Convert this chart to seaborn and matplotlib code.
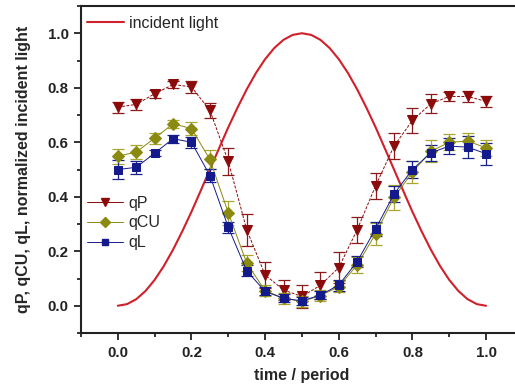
import numpy as np
import pandas as pd
import matplotlib
matplotlib.use("Agg")
import matplotlib.pyplot as plt
from matplotlib.ticker import MultipleLocator
from matplotlib.lines import Line2D
import seaborn as sns

# time points (fraction of period)
t = [0.00, 0.05, 0.10, 0.15, 0.20, 0.25, 0.30, 0.35, 0.40, 0.45, 0.50,
     0.55, 0.60, 0.65, 0.70, 0.75, 0.80, 0.85, 0.90, 0.95, 1.00]

qP = [0.729, 0.739, 0.778, 0.812, 0.803, 0.717, 0.530, 0.279, 0.113, 0.058, 0.034,
      0.075, 0.140, 0.279, 0.440, 0.586, 0.680, 0.741, 0.768, 0.768, 0.750]
qP_err = [0.020, 0.020, 0.015, 0.012, 0.022, 0.028, 0.050, 0.058, 0.047, 0.037, 0.043,
          0.050, 0.056, 0.048, 0.048, 0.047, 0.047, 0.035, 0.015, 0.020, 0.020]

qCU = [0.549, 0.564, 0.615, 0.668, 0.650, 0.537, 0.341, 0.157, 0.055, 0.028, 0.016,
       0.037, 0.070, 0.150, 0.264, 0.398, 0.490, 0.567, 0.600, 0.604, 0.580]
qCU_err = [0.027, 0.025, 0.020, 0.015, 0.025, 0.035, 0.045, 0.030, 0.020, 0.020, 0.020,
           0.020, 0.020, 0.030, 0.040, 0.045, 0.040, 0.040, 0.030, 0.030, 0.030]

qL = [0.500, 0.508, 0.560, 0.613, 0.600, 0.478, 0.288, 0.128, 0.053, 0.027, 0.018,
      0.039, 0.076, 0.162, 0.282, 0.410, 0.500, 0.561, 0.586, 0.582, 0.558]
qL_err = [0.034, 0.025, 0.010, 0.015, 0.020, 0.025, 0.020, 0.020, 0.015, 0.015, 0.015,
          0.015, 0.020, 0.020, 0.025, 0.030, 0.030, 0.030, 0.030, 0.040, 0.040]

# normalized incident light over one period
light_t = [0.000, 0.025, 0.050, 0.075, 0.100, 0.125, 0.150, 0.175, 0.200, 0.225,
           0.250, 0.275, 0.300, 0.325, 0.350, 0.375, 0.400, 0.425, 0.450, 0.475,
           0.500, 0.525, 0.550, 0.575, 0.600, 0.625, 0.650, 0.675, 0.700, 0.725,
           0.750, 0.775, 0.800, 0.825, 0.850, 0.875, 0.900, 0.925, 0.950, 0.975, 1.000]
light = [0.000, 0.006, 0.024, 0.054, 0.095, 0.146, 0.206, 0.273, 0.345, 0.422,
         0.500, 0.578, 0.655, 0.727, 0.794, 0.854, 0.905, 0.946, 0.976, 0.994,
         1.000, 0.994, 0.976, 0.946, 0.905, 0.854, 0.794, 0.727, 0.655, 0.578,
         0.500, 0.422, 0.345, 0.273, 0.206, 0.146, 0.095, 0.054, 0.024, 0.006, 0.000]

sns.set_style("ticks")
plt.rcParams["font.family"] = ["Liberation Sans", "DejaVu Sans"]
plt.rcParams["font.size"] = 11.5

fig = plt.figure(figsize=(5.15, 3.87), dpi=100)
ax = fig.add_axes([0.1573, 0.1395, 0.858, 0.845])

df_light = pd.DataFrame({"t": light_t, "light": light})
sns.lineplot(data=df_light, x="t", y="light", ax=ax, color="#d0202a",
             linewidth=1.5, legend=False)

series = [
    # name, values, errors, colour, error colour, marker, size, legend size, style
    ("qP", qP, qP_err, "#8b0a0a", "#8b1a1a", "v", 7.5, 6.0, (0, (3, 1.5))),
    ("qCU", qCU, qCU_err, "#8a8a10", "#a8a830", "D", 5.8, 4.8, "-"),
    ("qL", qL, qL_err, "#141a8c", "#1a208c", "s", 5.5, 4.5, "-"),
]
handles = []
for name, vals, err, col, ecol, mk, ms, lms, ls in series:
    df = pd.DataFrame({"t": t, "v": vals})
    ax.errorbar(t, vals, yerr=err, fmt="none", ecolor=ecol, elinewidth=0.9,
                capsize=4, capthick=0.9, zorder=2)
    sns.lineplot(data=df, x="t", y="v", ax=ax, color=col, linewidth=0.7,
                 linestyle=ls, marker=mk, markersize=ms, markeredgecolor=col,
                 markerfacecolor=col, legend=False, zorder=3)
    handles.append(Line2D([], [], color=col, linewidth=0.7, marker=mk,
                          markersize=lms, markerfacecolor=col,
                          markeredgecolor=col, label=name))

ax.set_xlim(-0.1, 1.1)
ax.set_ylim(-0.1, 1.1)
ax.xaxis.set_major_locator(MultipleLocator(0.2))
ax.xaxis.set_minor_locator(MultipleLocator(0.1))
ax.yaxis.set_major_locator(MultipleLocator(0.2))
ax.yaxis.set_minor_locator(MultipleLocator(0.1))
ax.set_xticks([0.0, 0.2, 0.4, 0.6, 0.8, 1.0])
ax.set_yticks([0.0, 0.2, 0.4, 0.6, 0.8, 1.0])
ax.tick_params(which="major", direction="out", length=5, width=1.3,
               labelsize=10.8, colors="#222222", pad=4)
ax.tick_params(which="minor", direction="out", length=3, width=1.3)
for lbl in ax.get_xticklabels() + ax.get_yticklabels():
    lbl.set_fontweight("bold")
for side in ("left", "bottom", "top", "right"):
    ax.spines[side].set_linewidth(1.5)
    ax.spines[side].set_color("#222222")

ax.set_xlabel("time / period", fontweight="bold", fontsize=11.5, labelpad=6)
ax.set_ylabel("qP, qCU, qL, normalized incident light", fontweight="bold",
              fontsize=11.5, labelpad=12)

leg1 = ax.legend(handles=[Line2D([], [], color="#d0202a", linewidth=1.5)],
                 labels=["incident light"], loc="upper left", frameon=False,
                 fontsize=11.5, handlelength=2.3, handletextpad=0.3,
                 borderaxespad=0.0, bbox_to_anchor=(0.0, 0.99))
ax.add_artist(leg1)
ax.legend(handles=handles, loc="upper left", frameon=False, fontsize=11.5,
          handlelength=2.2, handletextpad=0.35, labelspacing=0.3,
          borderaxespad=0.0, bbox_to_anchor=(0.0, 0.44))

fig.savefig("out.png", dpi=100)
